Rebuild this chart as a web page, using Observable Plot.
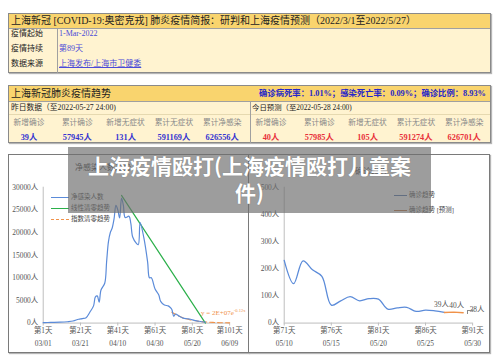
<!DOCTYPE html>
<html><head><meta charset="utf-8">
<script src="https://cdn.jsdelivr.net/npm/d3@7"></script>
<script src="https://cdn.jsdelivr.net/npm/@observablehq/plot@0.6"></script>
<style>
body{margin:0;background:#fff;}
#root{position:relative;width:500px;height:362px;overflow:hidden;font-family:"Liberation Serif","Noto Sans CJK SC",serif;color:#222;background:#fff;}
.a{position:absolute;white-space:nowrap;}
.box{position:absolute;border:1px solid #8a8a8a;box-shadow:1px 1px 1px #b5b5b5;background:#fff3d0;box-sizing:border-box;}
.hdr{position:absolute;left:0;right:0;top:0;background:#f9d46e;border-bottom:1px solid #a0a0a0;}
.panel{position:absolute;border:1px solid #7a7a7a;box-shadow:1px 1px 1px #b5b5b5;background:#fff;box-sizing:border-box;}
.c{text-align:center;}
</style></head>
<body><div id="root"></div>
<script>
// ---------- data ----------
const briefTitle = "上海新冠 [COVID-19:奥密克戎] 肺炎疫情简报：研判和上海疫情预测（2022/3/1至2022/5/27）";
const infoLabels = ["疫情起始", "疫情持续", "数据来源"];
const infoValues = ["1-Mar-2022", "第89天", "上海发布/上海市卫健委"];
const trendTitle = "上海新冠肺炎疫情趋势";
const rateText = "确诊病死率：1.01%；感染死亡率：0.09%；确诊比例：8.93%";
const yesterdayTitle = "昨日数据（至2022-05-27 24:00)";
const todayTitle = "今日预测（至2022-05-28 24:00)";
const statLabels = ["新增确诊", "累计确诊", "新增无症状", "累计无症状", "累计净感染"];
const yesterdayValues = ["39人", "57945人", "131人", "591169人", "626556人"];
const todayValues = ["40人", "57985人", "105人", "591274人", "626701人"];
const overlayTitle = "上海疫情殴打(上海疫情殴打儿童案件)";

// left chart: net infections
const netDays = [1,5,10,14,17,20,22,24,26,28,29,30,31,32,34,35,36,37,38,39,40,41,42,43,44,45,47,48,49,51,52,53,55,57,58,59,61,63,64,66,68,69,70,71,72,74,76,78,80,82,84,86,88];
const netValues = [100,150,200,300,450,850,1000,1200,2400,3800,5800,6000,4600,7300,8800,13500,18000,20000,21000,23000,26000,25000,23200,27600,26000,23300,23600,22000,19000,17600,17300,22200,18800,13500,10000,10000,7500,6200,4800,4000,3800,3500,3000,1500,2000,1500,1100,950,850,600,450,300,200];
const linearDays = [43, 88];
const linearValues = [28200, 0];
const expDays = [70,73,76,80,84,88,92,96,101];
const expValues = [2400,1700,1150,700,420,250,150,90,50];
const leftXTicks = [1,21,41,61,81,101];
const leftDates = ["03/01","03/21","04/10","04/30","05/20","06/09"];
const leftYTicks = [0,5000,10000,15000,20000,25000,30000];
const leftLegend = ["净感染人数","线性清零趋势","指数清零趋势"];
const leftTitle = "净感染人数趋势";

// right chart: daily confirmed
const confDays = [71,72,73,74,75,76,77,78,79,80,81,82,83,84,85,86,87,88];
const confValues = [231,145,229,196,172,66,82,97,82,90,88,51,56,58,43,48,45,39];
const predDays = [88,89,90];
const predValues = [39,40,38];
const predLabels = ["39人","40人","38人"];
const rightXTicks = [71,76,81,86,91];
const rightDates = ["05/10","05/15","05/20","05/25","05/30"];
const rightYTicks = [0,100,200,300,400,500];
const rightLegend = ["确诊趋势","确诊趋势 [预测]"];
const rightTitle = "确诊趋势";

// ---------- layout ----------
const root = document.getElementById("root");
function el(tag, cls, style, html, parent) {
  const e = document.createElement(tag);
  if (cls) e.className = cls;
  Object.assign(e.style, style || {});
  if (html != null) e.innerHTML = html;
  (parent || root).appendChild(e);
  return e;
}
// scale font so the text spans a target width
function fit(e, target) {
  const w = e.getBoundingClientRect().width;
  const fs = parseFloat(e.style.fontSize);
  if (w > 0) e.style.fontSize = (fs * target / w).toFixed(2) + "px";
  return e;
}
const px = v => v + "px";

// Box 1
const b1 = el("div","box",{left:"8px",top:"13px",width:"483px",height:"60px"});
el("div","hdr",{height:"14px"},null,b1);
fit(el("div","a",{left:"2px",top:"0px",lineHeight:"14px",fontSize:"10px"},briefTitle,b1), 405);
el("div","a",{left:"48px",top:"14px",width:"1px",height:"45px",background:"#a0a0a0"},null,b1);
infoLabels.forEach((t,i)=>{
  const cy = 20 + i*15;
  el("div","a",{left:"2px",top:px(cy-7),lineHeight:"14px",fontSize:"8px",color:"#222"},t,b1);
  el("div","a",{left:"50px",top:px(cy-7),lineHeight:"14px",fontSize:"8px",color:"#4a4ad8",textDecoration:i===2?"underline":"none"},infoValues[i],b1);
});

// Box 2
const b2 = el("div","box",{left:"8px",top:"85px",width:"483px",height:"58px"});
el("div","hdr",{height:"15px"},null,b2);
fit(el("div","a",{left:"2px",top:"0px",lineHeight:"15px",fontSize:"10px"},trendTitle,b2), 100);
fit(el("div","a",{left:"250px",top:"0px",lineHeight:"15px",fontSize:"8.5px",fontWeight:"bold",color:"#2727c8"},rateText,b2), 227);
el("div","a",{left:"0px",top:"28px",width:"481px",height:"1px",background:"#e6d9b0"},null,b2);
el("div","a",{left:"241px",top:"15px",width:"1px",height:"42px",background:"#a0a0a0"},null,b2);
fit(el("div","a",{left:"2px",top:"15px",lineHeight:"13px",fontSize:"8.5px"},yesterdayTitle,b2), 105);
fit(el("div","a",{left:"243px",top:"15px",lineHeight:"13px",fontSize:"8.5px"},todayTitle,b2), 100);
statLabels.forEach((t,i)=>{
  const lc = 20 + i*48.3, rc = 262 + i*48.3;
  el("div","a c",{left:px(lc-24),width:"48px",top:"31px",lineHeight:"12px",fontSize:"7.7px",color:"#8a8a8a"},t,b2);
  el("div","a c",{left:px(rc-24),width:"48px",top:"31px",lineHeight:"12px",fontSize:"7.7px",color:"#8a8a8a"},t,b2);
  el("div","a c",{left:px(lc-24),width:"48px",top:"46px",lineHeight:"12px",fontSize:"8.3px",fontWeight:"bold",color:"#3434d0"},yesterdayValues[i],b2);
  el("div","a c",{left:px(rc-24),width:"48px",top:"46px",lineHeight:"12px",fontSize:"8.3px",fontWeight:"bold",color:"#e8303a"},todayValues[i],b2);
});

// Panels
const pL = el("div","panel",{left:"8px",top:"154px",width:"241px",height:"199px"});
const pR = el("div","panel",{left:"248px",top:"154px",width:"242px",height:"199px"});

const font = '"Liberation Serif","Noto Sans CJK SC",serif';
const blue = "#5b8bd9", green = "#2bb04a", orange = "#f0924a";

const netData = netDays.map((d,i)=>({d, v: netValues[i]}));
const linData = linearDays.map((d,i)=>({d, v: linearValues[i]}));
const expData = expDays.map((d,i)=>({d, v: expValues[i]}));

const leftPlot = Plot.plot({
  width: 241, height: 199,
  marginLeft: 35, marginRight: 18, marginTop: 33, marginBottom: 29,
  style: {fontFamily: font, fontSize: "7.5px", color: "#555", background: "transparent", overflow: "visible"},
  x: {domain: [1, 101]},
  y: {domain: [0, 30000]},
  marks: [
    Plot.ruleY([0], {stroke: "#bdbdbd"}),
    Plot.ruleX([1], {stroke: "#bdbdbd"}),
    Plot.axisY({ticks: leftYTicks, tickFormat: d => d + "人", tickSize: 0, tickPadding: 5, label: null}),
    Plot.axisX({ticks: leftXTicks, tickFormat: d => "第" + d + "天", tickSize: 3, tickPadding: 2, stroke: "#bdbdbd", label: null}),
    Plot.axisX({ticks: leftXTicks, tickFormat: d => leftDates[leftXTicks.indexOf(d)], tickSize: 0, tickPadding: 18, label: null}),
    Plot.line(expData, {x: "d", y: "v", stroke: orange, strokeWidth: 1.1, strokeDasharray: "5,3", curve: "catmull-rom"}),
    Plot.line(linData, {x: "d", y: "v", stroke: green, strokeWidth: 1.2}),
    Plot.line(netData, {x: "d", y: "v", stroke: blue, strokeWidth: 1.2, curve: "catmull-rom"})
  ]
});
leftPlot.style.position = "absolute"; leftPlot.style.left = "-1px"; leftPlot.style.top = "-1px";
pL.appendChild(leftPlot);

const confData = confDays.map((d,i)=>({d, v: confValues[i]}));
const predData = predDays.map((d,i)=>({d, v: predValues[i], t: predLabels[i]}));
const labelOffsets = [[-3,-8],[3,-7],[14,-3]];

const rightPlot = Plot.plot({
  width: 242, height: 199,
  marginLeft: 36, marginRight: 16, marginTop: 33, marginBottom: 29,
  style: {fontFamily: font, fontSize: "7.5px", color: "#555", background: "transparent", overflow: "visible"},
  x: {domain: [71, 91]},
  y: {domain: [0, 500]},
  marks: [
    Plot.ruleY([0], {stroke: "#bdbdbd"}),
    Plot.ruleX([71], {stroke: "#bdbdbd"}),
    Plot.axisY({ticks: rightYTicks, tickFormat: d => d + "人", tickSize: 0, tickPadding: 5, label: null}),
    Plot.axisX({ticks: rightXTicks, tickFormat: d => "第" + d + "天", tickSize: 3, tickPadding: 2, stroke: "#bdbdbd", label: null}),
    Plot.axisX({ticks: rightXTicks, tickFormat: d => rightDates[rightXTicks.indexOf(d)], tickSize: 0, tickPadding: 18, label: null}),
    Plot.line(confData, {x: "d", y: "v", stroke: blue, strokeWidth: 1.3, curve: "catmull-rom"}),
    Plot.line(predData, {x: "d", y: "v", stroke: orange, strokeWidth: 1.3}),
    ...predData.map((p,i)=>Plot.text([p], {x: "d", y: "v", text: "t", dx: labelOffsets[i][0], dy: labelOffsets[i][1], fill: "#555", fontSize: 7.5}))
  ]
});
rightPlot.style.position = "absolute"; rightPlot.style.left = "-1px"; rightPlot.style.top = "-1px";
pR.appendChild(rightPlot);

// chart titles (mostly hidden under overlay)
el("div","a",{left:"75px",top:"162px",lineHeight:"12px",fontSize:"8px",color:"#333"},leftTitle);
el("div","a",{left:"355px",top:"166px",lineHeight:"12px",fontSize:"8px",color:"#333"},rightTitle);

// left legend
leftLegend.forEach((t,i)=>{
  const cy = 197 + i*11;
  const c = [blue, green, orange][i];
  el("div","a",{left:"51px",top:px(cy),width:"18px",height:"0px",borderTop:"1.3px "+(i===2?"dashed ":"solid ")+c},null);
  el("div","a",{left:"71px",top:px(cy-6),lineHeight:"12px",fontSize:"6.5px",color:"#444"},t);
});
// right legend
rightLegend.forEach((t,i)=>{
  const cy = 195 + i*15;
  el("div","a",{left:"394px",top:px(cy),width:"13px",height:"0px",borderTop:"1.3px solid "+(i===0?"#4a6fa8":"#c0703a")},null);
  el("div","a",{left:"409px",top:px(cy-6),lineHeight:"12px",fontSize:"6.5px",color:"#444"},t);
});
// exponential annotation
el("div","a",{left:"201px",top:"306px",lineHeight:"10px",fontSize:"7px",color:orange},"y = 2E+07e<sup style='font-size:4.5px'>-0.12x</sup>");
// 38 leader
el("div","a",{left:"467px",top:"310px",width:"5px",height:"3px",borderTop:"1px solid #888",borderLeft:"1px solid #888"},null);

// overlay
const ov = el("div","a",{left:"68px",top:"147px",width:"363px",height:"66px",background:"rgba(110,110,110,0.68)"});
el("div","",{position:"absolute",left:"0",top:"5px",width:"363px",textAlign:"center",whiteSpace:"normal",
  fontFamily:'"Noto Sans CJK SC",sans-serif',fontWeight:"bold",fontSize:"21px",lineHeight:"27px",color:"#fff",
  padding:"0 12px",boxSizing:"border-box",wordBreak:"break-all",textShadow:"0 0 1px rgba(0,0,0,0.3)"},overlayTitle,ov);
</script>
</body></html>
